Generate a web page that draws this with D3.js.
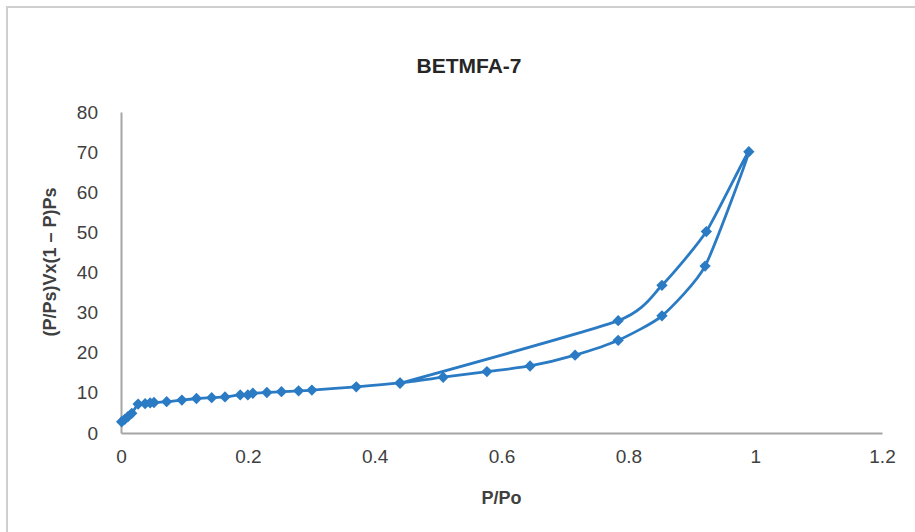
<!DOCTYPE html>
<html>
<head>
<meta charset="utf-8">
<script src="https://cdn.jsdelivr.net/npm/d3@7"></script>
<style>
  body { margin: 0; background: #fff; }
  svg { font-family: 'Liberation Sans', Arial, sans-serif; }
</style>
</head>
<body>
<div id="chart"></div>
<script>
// adsorption branch (P/Po rising), then desorption branch back down
const adsX = [0.001, 0.006, 0.011, 0.017, 0.027, 0.038, 0.046, 0.052, 0.072, 0.096, 0.119, 0.143, 0.164, 0.188, 0.200, 0.208, 0.230, 0.253, 0.280, 0.301, 0.371, 0.440, 0.508, 0.577, 0.645, 0.716, 0.784, 0.853, 0.921, 0.990]
const adsY = [2.8, 3.4, 4.1, 4.9, 7.2, 7.3, 7.5, 7.6, 7.8, 8.2, 8.6, 8.8, 9.0, 9.5, 9.5, 9.9, 10.1, 10.3, 10.5, 10.7, 11.5, 12.5, 13.9, 15.3, 16.7, 19.4, 23.1, 29.2, 41.6, 70.1]
const desX = [0.923, 0.853, 0.784, 0.440]
const desY = [50.2, 36.8, 28.0, 12.4]
const xTicks = [0, 0.2, 0.4, 0.6, 0.8, 1, 1.2]
const yTicks = [0, 10, 20, 30, 40, 50, 60, 70, 80]

const W = 915, H = 532
const plot = { left: 121, right: 882, top: 112, bottom: 433 }
const color = '#2a7bc4'

const svg = d3.select('#chart').append('svg')
  .attr('width', W)
  .attr('height', H)

// chart area border
svg.append('rect')
  .attr('x', 7).attr('y', 7)
  .attr('width', W + 20).attr('height', H + 20)
  .attr('fill', '#fff')
  .attr('stroke', '#cfcfcf')
  .attr('stroke-width', 2)

const x = d3.scaleLinear().domain([0, 1.2]).range([plot.left, plot.right])
const y = d3.scaleLinear().domain([0, 80]).range([plot.bottom, plot.top])

const points = adsX.map((v, i) => [v, adsY[i]])
  .concat(desX.map((v, i) => [v, desY[i]]))

// axes
const xAxis = svg.append('g')
  .attr('transform', `translate(0,${plot.bottom})`)
  .call(d3.axisBottom(x).tickValues(xTicks).tickSize(0).tickPadding(17).tickFormat(d3.format('')))
const yAxis = svg.append('g')
  .attr('transform', `translate(${plot.left},0)`)
  .call(d3.axisLeft(y).tickValues(yTicks).tickSize(0).tickPadding(23))

;[xAxis, yAxis].forEach(g => {
  g.select('.domain').attr('stroke', '#a6a6a6').attr('stroke-width', 2)
  g.selectAll('text')
    .attr('font-family', "'Liberation Sans', Arial, sans-serif")
    .attr('font-size', 19)
    .attr('fill', '#404040')
})

// series line (smoothed)
const line = d3.line()
  .x(d => x(d[0]))
  .y(d => y(d[1]))
  .curve(d3.curveCardinal.tension(0.4))

svg.append('path')
  .datum(points)
  .attr('d', line)
  .attr('fill', 'none')
  .attr('stroke', color)
  .attr('stroke-width', 2.8)

// diamond markers
svg.append('g').selectAll('path')
  .data(points)
  .join('path')
  .attr('d', d3.symbol(d3.symbolSquare, 64))
  .attr('transform', d => `translate(${x(d[0])},${y(d[1])}) rotate(45)`)
  .attr('fill', color)

// titles
svg.append('text')
  .attr('x', 469).attr('y', 73)
  .attr('text-anchor', 'middle')
  .attr('font-weight', 'bold')
  .attr('font-size', 21)
  .attr('fill', '#262626')
  .text('BETMFA-7')

svg.append('text')
  .attr('x', (plot.left + plot.right) / 2).attr('y', 504)
  .attr('text-anchor', 'middle')
  .attr('font-weight', 'bold')
  .attr('font-size', 18)
  .attr('fill', '#404040')
  .text('P/Po')

svg.append('text')
  .attr('transform', 'translate(56,262) rotate(-90)')
  .attr('text-anchor', 'middle')
  .attr('font-weight', 'bold')
  .attr('font-size', 18)
  .attr('fill', '#404040')
  .text('(P/Ps)Vx(1 – P)Ps')
</script>
</body>
</html>
